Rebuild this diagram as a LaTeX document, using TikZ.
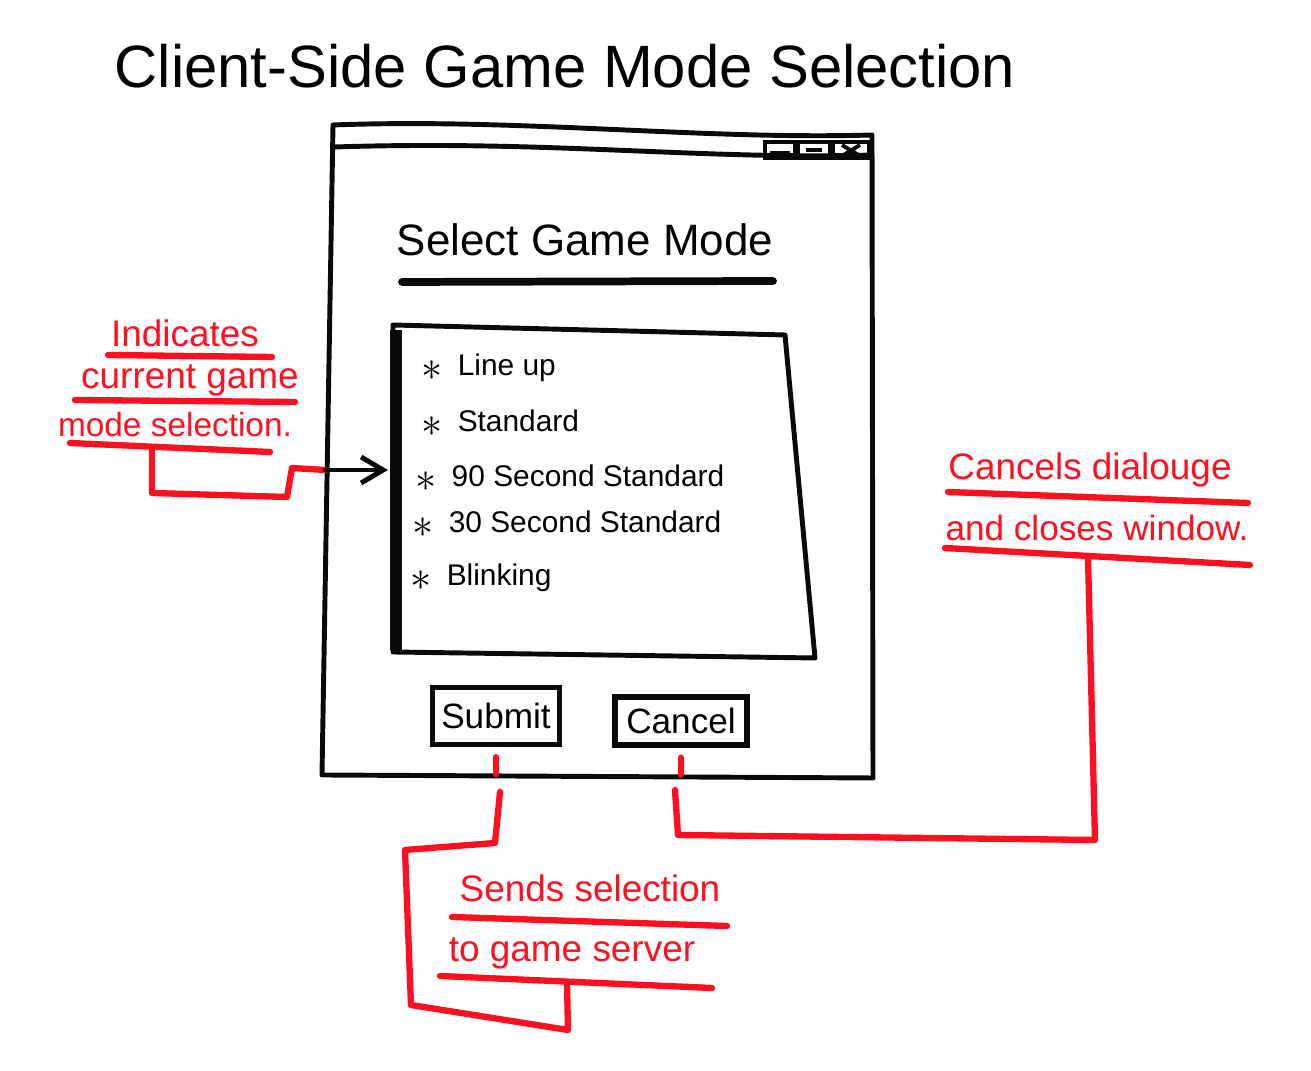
\documentclass[tikz,border=0pt]{standalone}
\usepackage{fontspec}
\setmainfont{Liberation Sans}
\usetikzlibrary{arrows.meta,positioning,calc}
\definecolor{ink}    {HTML}{0A0A0A}
\definecolor{markred}{HTML}{FF1020}
\tikzset{
  pen/.style      ={draw=ink, line width=1.4pt, line join=round, line cap=round},
  thickpen/.style ={draw=ink, line width=2.2pt, line cap=round},
  redpen/.style   ={draw=markred, line width=1.8pt, line join=round, line cap=round},
  itemtxt/.style  ={anchor=west, inner sep=0pt, font=\fontsize{8.5}{10}\selectfont},
  notetxt/.style  ={text=markred, inner sep=0pt, font=\fontsize{10.5}{13}\selectfont},
  btnbox/.style   ={draw=ink, line width=1.5pt, inner sep=2pt,
                    font=\fontsize{10}{12}\selectfont},
  ctrlbox/.style  ={draw=ink, line width=1.1pt},
  pointarr/.style ={-{Straight Barb[length=2.2mm,width=2.6mm]}, pen},
}
\newcommand{\modebullet}{\raisebox{-0.3ex}{\large$\ast$}\enspace}

\begin{document}
\begin{tikzpicture}[x=0.01cm, y=-0.01cm]
  \useasboundingbox (0,0) rectangle (1311,1071);

  \node[font=\fontsize{17}{20}\selectfont] (title) at (565,66)
    {Client-Side Game Mode Selection};

  % dialog window and its title bar
  \draw[pen] (333,125) .. controls (520,118) and (700,140) .. (872,135)
    -- (873,778) -- (322,775) -- cycle;
  \draw[pen] (335,147) .. controls (550,140) and (700,160) .. (872,155);
  \draw[ctrlbox] (765,142) rectangle (795,158);
  \draw[ctrlbox] (798,142) rectangle (830,158);
  \draw[ctrlbox] (833,142) rectangle (869,158);
  \draw[ctrlbox] (770,153) -- (790,153);
  \draw[ctrlbox] (806,150) -- (822,150);
  \draw[ctrlbox] (842,145) -- (860,156) (842,156) -- (860,145);

  \node[font=\fontsize{12.5}{15}\selectfont] (heading) at (585,240) {Select Game Mode};
  \draw[thickpen] (402,282) -- (773,281);

  % list of modes
  \draw[pen] (393,325) -- (785,335) -- (815,658) -- (393,652) -- cycle;
  \draw[ink, line width=3.2pt] (396,330) -- (396,650);
  \coordinate (listin) at (388,470);

  \node[itemtxt] (m1) at (421,368) {\modebullet Line up};
  \node[itemtxt] (m2) at (421,423) {\modebullet Standard};
  \node[itemtxt] (m3) at (415,478) {\modebullet 90 Second Standard};
  \node[itemtxt] (m4) at (412,524) {\modebullet 30 Second Standard};
  \node[itemtxt] (m5) at (410,578) {\modebullet Blinking};

  \node[btnbox, minimum width=1.27cm, minimum height=0.57cm] (submitbtn) at (496,716) {Submit};
  \node[btnbox, minimum width=1.32cm, minimum height=0.48cm] (cancelbtn) at (681,721) {Cancel};

  % notes
  \node[notetxt] (ind1) at (185,333) {Indicates};
  \node[notetxt] (ind2) at (190,380) {current game};
  \node[notetxt, font=\fontsize{9.5}{12}\selectfont] (ind3) at (175,425) {mode selection.};
  \draw[redpen] (108,355) -- (272,357);
  \draw[redpen] (75,400) -- (295,402);
  \draw[redpen] (70,443) -- (270,452);
  \coordinate (ind3u) at (152,448);
  \coordinate (curtip) at (325,470);

  \node[notetxt] (can1) at (1090,470) {Cancels dialouge};
  \node[notetxt, font=\fontsize{10}{12}\selectfont] (can2) at (1097,528) {and closes window.};
  \draw[redpen] (948,492) -- (1248,503);
  \draw[redpen] (945,548) -- (1250,565);
  \coordinate (can2u) at (1088,557);

  \node[notetxt] (snd1) at (590,888) {Sends selection};
  \node[notetxt] (snd2) at (572,953) {to game server};
  \draw[redpen] (452,917) -- (727,926);
  \draw[redpen] (440,976) -- (712,988);
  \coordinate (snd2u) at (567,983);

  % leaders
  \draw[redpen] (ind3u) -- (152,493) -- (287,497) -- (292,468) -- (curtip);
  \draw[pointarr] (curtip) -- (listin);

  \draw[redpen] ([yshift=-0.1cm]submitbtn.south) -- ++(0,17);
  \draw[redpen] (500,792) -- (495,843) -- (405,850) -- (411,1005)
    -- (568,1030) -- (snd2u);

  \draw[redpen] ([yshift=-0.1cm]cancelbtn.south) -- ++(0,17);
  \draw[redpen] (675,790) -- (678,835) -- (1095,840) -- (can2u);
\end{tikzpicture}
\end{document}
